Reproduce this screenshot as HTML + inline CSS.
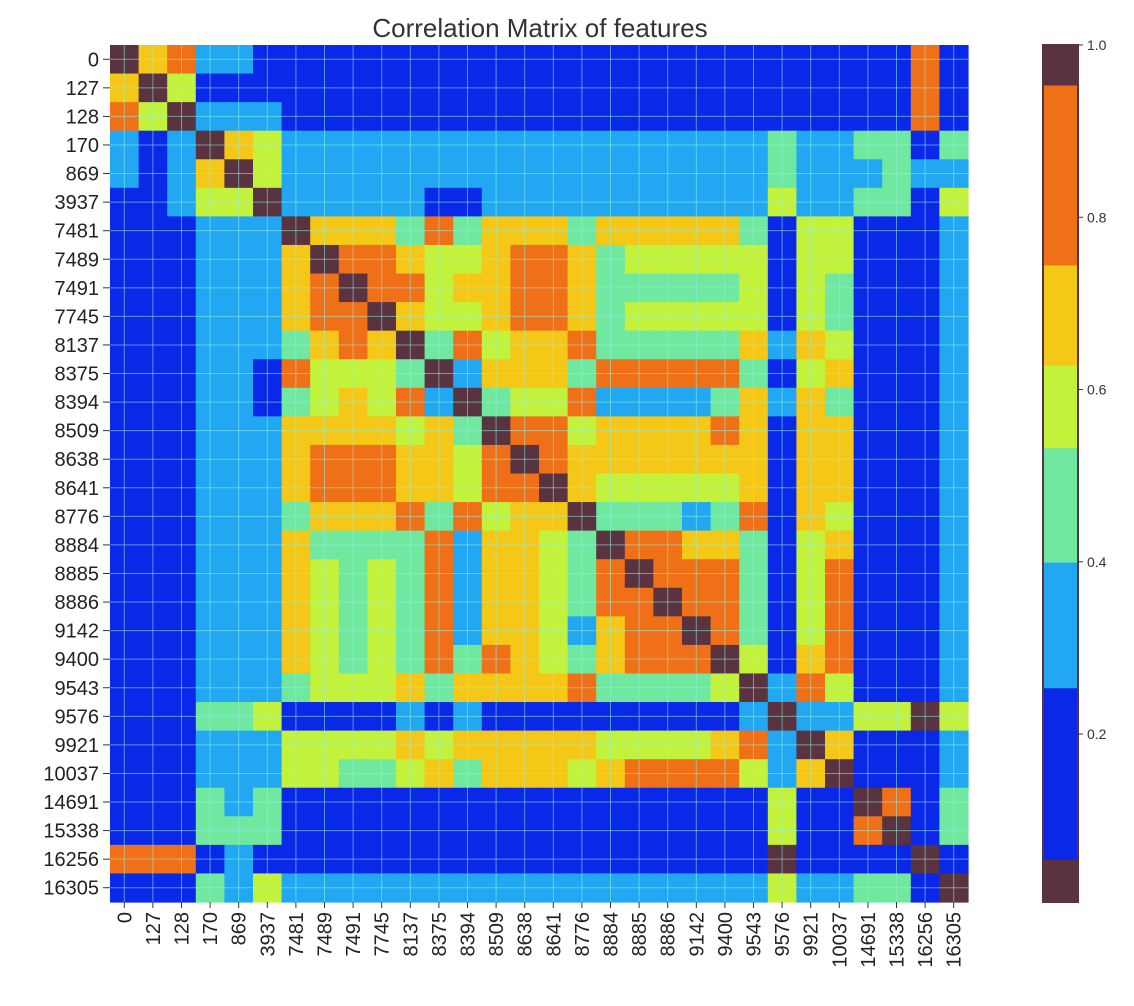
<!DOCTYPE html>
<html><head><meta charset="utf-8"><style>
html,body{margin:0;padding:0;background:#fff;}
svg{display:block;font-family:"Liberation Sans","DejaVu Sans",sans-serif;}
</style></head><body>
<svg id="chart" width="1134" height="1006" viewBox="0 0 1134 1006" xmlns="http://www.w3.org/2000/svg">
<text x="540" y="37" font-size="26" fill="#333" text-anchor="middle">Correlation Matrix of features</text>
<g id="cells"></g>
<g id="grid"></g>
<g id="ylab"></g>
<g id="xlab"></g>
<g id="cbar"></g>
</svg>
<script>
const features = ["0","127","128","170","869","3937","7481","7489","7491","7745","8137","8375","8394","8509","8638","8641","8776","8884","8885","8886","9142","9400","9543","9576","9921","10037","14691","15338","16256","16305"];
const upperRows = [
[1,.7,.8,.33,.33,.15,.15,.15,.15,.15,.15,.15,.15,.15,.15,.15,.15,.15,.15,.15,.15,.15,.15,.1,.15,.15,.15,.15,.85,.15],
[1,.6,.2,.2,.15,.15,.2,.15,.15,.15,.15,.15,.15,.15,.15,.15,.15,.15,.15,.15,.15,.15,.1,.15,.15,.15,.15,.85,.15],
[1,.33,.33,.3,.15,.15,.15,.15,.15,.15,.15,.15,.15,.15,.15,.15,.15,.15,.15,.15,.15,.12,.15,.15,.15,.15,.8,.15],
[1,.7,.62,.33,.33,.33,.33,.33,.33,.33,.33,.33,.33,.33,.33,.33,.33,.33,.33,.33,.45,.33,.33,.5,.45,.2,.45],
[1,.6,.33,.33,.33,.33,.33,.33,.33,.33,.33,.33,.33,.33,.33,.33,.33,.33,.33,.5,.33,.33,.33,.45,.33,.33],
[1,.33,.33,.33,.33,.33,.2,.2,.33,.33,.33,.33,.33,.33,.33,.33,.33,.33,.6,.33,.33,.45,.45,.15,.55],
[1,.74,.66,.68,.53,.76,.45,.72,.74,.68,.53,.66,.68,.7,.68,.7,.45,.2,.6,.6,.15,.15,.15,.33],
[1,.8,.8,.68,.62,.58,.72,.8,.76,.68,.45,.58,.58,.58,.58,.58,.2,.6,.55,.15,.15,.15,.33],
[1,.8,.75,.58,.68,.68,.75,.75,.68,.45,.45,.5,.45,.45,.58,.15,.62,.45,.15,.15,.15,.33],
[1,.68,.6,.58,.74,.8,.8,.68,.45,.58,.58,.58,.58,.58,.15,.62,.5,.15,.15,.15,.33],
[1,.45,.8,.58,.7,.68,.8,.45,.45,.45,.42,.45,.72,.3,.68,.58,.2,.2,.15,.33],
[1,.38,.74,.74,.7,.45,.76,.78,.76,.78,.76,.45,.15,.58,.68,.15,.15,.15,.33],
[1,.5,.6,.58,.78,.33,.38,.38,.33,.45,.7,.3,.68,.45,.15,.15,.15,.33],
[1,.8,.8,.58,.68,.68,.72,.68,.76,.68,.2,.7,.72,.15,.15,.15,.33],
[1,.8,.72,.66,.7,.7,.68,.72,.68,.2,.72,.68,.15,.15,.15,.33],
[1,.68,.6,.58,.58,.6,.6,.7,.2,.68,.68,.15,.15,.15,.33],
[1,.45,.45,.45,.38,.45,.78,.15,.7,.6,.15,.15,.15,.33],
[1,.8,.8,.74,.74,.45,.2,.58,.74,.2,.2,.15,.3],
[1,.8,.8,.8,.45,.2,.6,.76,.2,.2,.15,.3],
[1,.8,.8,.45,.2,.6,.76,.15,.15,.15,.3],
[1,.8,.45,.2,.6,.76,.15,.15,.15,.3],
[1,.55,.2,.66,.78,.15,.15,.15,.3],
[1,.3,.76,.58,.15,.15,.15,.3],
[1,.33,.33,.58,.58,.03,.55],
[1,.68,.2,.2,.15,.33],
[1,.25,.25,.15,.33],
[1,.8,.15,.5],
[1,.15,.5],
[1,.15],
[1]
];
const cbTicks = [0.2,0.4,0.6,0.8,1.0];
const cbTickLabels = ["0.2","0.4","0.6","0.8","1.0"];

const NS="http://www.w3.org/2000/svg";
const n=features.length;
const X0=110,Y0=45,W=858,H=857;
const cw=W/n, ch=H/n;
const xPos=i=>X0+i*cw, yPos=i=>Y0+i*ch;
function color(v){
  if(v>=0.952) return "#5a3340";
  if(v>=0.743) return "#f07018";
  if(v>=0.63) return "#f5c818";
  if(v>=0.534) return "#c2f23c";
  if(v>=0.40) return "#70e8a0";
  if(v>=0.255) return "#22a8f2";
  if(v>=0.055) return "#0a28e8";
  return "#5a3340";
}
const M=[];
for(let i=0;i<n;i++){M.push(new Array(n).fill(0));}
for(let i=0;i<n;i++){const r=upperRows[i];for(let k=0;k<r.length;k++){const j=i+k;M[i][j]=r[k];M[j][i]=r[k];}}
function mk(tag,attrs,parent){const e=document.createElementNS(NS,tag);for(const k in attrs)e.setAttribute(k,attrs[k]);parent.appendChild(e);return e;}
const cells=document.getElementById('cells');
for(let i=0;i<n;i++)for(let j=0;j<n;j++){
  const r=mk('rect',{x:xPos(j),y:yPos(i),width:cw+0.6,height:ch+0.6,fill:color(M[i][j])},cells);
  
  
}
const grid=document.getElementById('grid');
for(let i=0;i<n;i++){
  const gx=mk('line',{x1:xPos(i)+cw/2,x2:xPos(i)+cw/2,y1:Y0,y2:Y0+H,stroke:"#8ff0e0","stroke-width":1,"stroke-opacity":0.55},grid);
  
  
  const gy=mk('line',{y1:yPos(i)+ch/2,y2:yPos(i)+ch/2,x1:X0,x2:X0+W,stroke:"#8ff0e0","stroke-width":1,"stroke-opacity":0.55},grid);
  
  
}
const yl=document.getElementById('ylab'), xl=document.getElementById('xlab');
for(let i=0;i<n;i++){
  const cy=yPos(i)+ch/2;
  const t=mk('text',{x:99,y:cy+7,"font-size":20,fill:"#222","text-anchor":"end"},yl);
  t.textContent=features[i];
  
  
  const tk=mk('line',{x1:103,x2:110,y1:cy,y2:cy,stroke:"#333","stroke-width":1},yl);
  
  
  const cx=xPos(i)+cw/2;
  const xt=mk('line',{x1:cx,x2:cx,y1:Y0+H,y2:Y0+H+6,stroke:"#333","stroke-width":1},xl);
  
  
  const t2=mk('text',{x:0,y:0,"font-size":20,fill:"#222","text-anchor":"end",transform:`translate(${cx+7},${Y0+H+10}) rotate(-90)`},xl);
  t2.textContent=features[i];
  
  
}
const cb=document.getElementById('cbar');
const CBX=1043,CBW=35,CBY0=45,CBY1=902,VMIN=0.005,VMAX=1.0;
const cbY=v=>CBY1-(v-VMIN)/(VMAX-VMIN)*(CBY1-CBY0);
const steps=300;
for(let s=0;s<steps;s++){
  const v0=VMIN+(VMAX-VMIN)*s/steps, v1=VMIN+(VMAX-VMIN)*(s+1)/steps;
  const r=mk('rect',{x:CBX,y:cbY(v1),width:CBW,height:cbY(v0)-cbY(v1)+0.5,fill:color((v0+v1)/2)},cb);
  
  
}
const fr=mk('rect',{x:CBX,y:CBY0,width:CBW,height:CBY1-CBY0,fill:"none",stroke:"#5a3340","stroke-width":2},cb);


for(let k=0;k<cbTicks.length;k++){
  const y=cbY(cbTicks[k]);
  const tk=mk('line',{x1:CBX+CBW,x2:CBX+CBW+5,y1:y,y2:y,stroke:"#333","stroke-width":1},cb);
  
  
  const t=mk('text',{x:CBX+CBW+9,y:y+5,"font-size":14,fill:"#333"},cb);
  t.textContent=cbTickLabels[k];
  
  
}
</script>
</body></html>
